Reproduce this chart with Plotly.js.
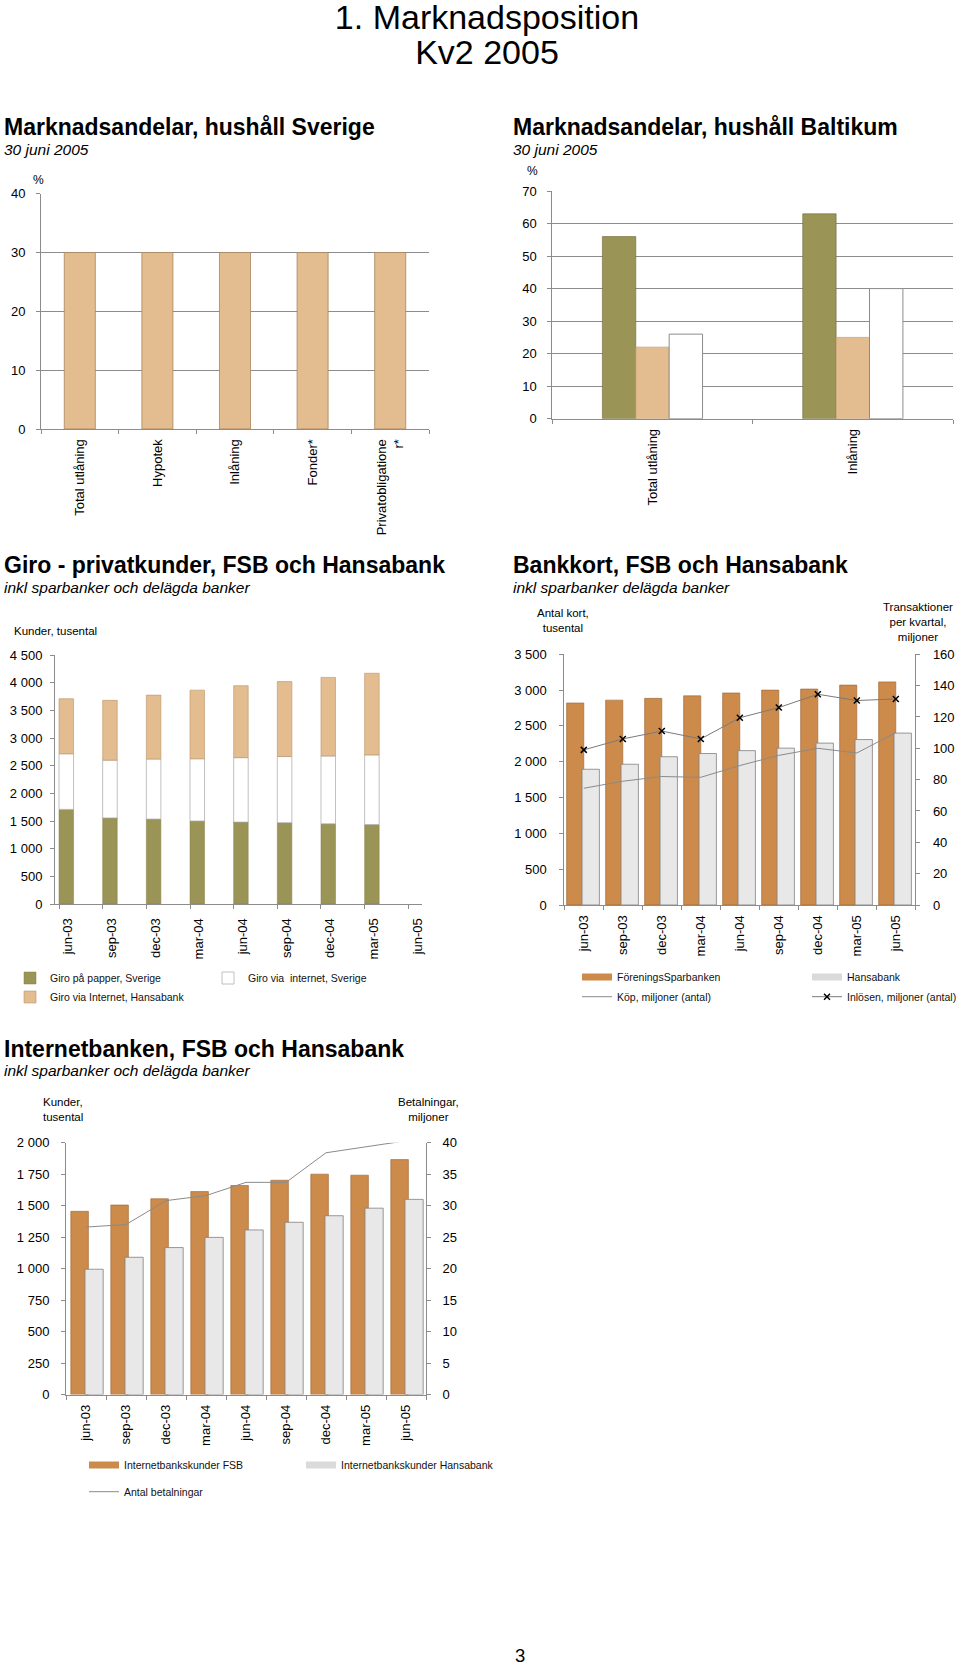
<!DOCTYPE html>
<html>
<head>
<meta charset="utf-8">
<script src="https://cdn.plot.ly/plotly-3.0.1.min.js"></script>
<style>
html,body{margin:0;padding:0;background:#fff;overflow:hidden;}
#wrap{position:relative;width:960px;height:1665px;}
#chart{position:absolute;left:0;top:0;width:960px;height:1665px;}
#pagetitle{position:absolute;left:287px;top:0;width:400px;text-align:center;
  font-family:'Liberation Sans',Arial,Helvetica,sans-serif;font-size:34px;line-height:35px;color:#000;z-index:5;}
</style>
</head>
<body>
<div id="wrap">
<div id="chart"></div>
<div id="pagetitle">1. Marknadsposition<br>Kv2 2005</div>
</div>
<script>
// ---------------- DATA ----------------
const sverigeCats = ['Total utlåning', 'Hypotek', 'Inlåning', 'Fonder*', 'Privatobligatione<br>r*'];
const sverigeShare = [30, 30, 30, 30, 30];

const balticCats = ['Total utlåning', 'Inlåning'];
const balticEstland = [56, 63];
const balticLettland = [22, 25];
const balticLitauen = [26, 40];

const quarters = ['jun-03', 'sep-03', 'dec-03', 'mar-04', 'jun-04', 'sep-04', 'dec-04', 'mar-05', 'jun-05'];

const giroPapper = [1710, 1555, 1535, 1500, 1480, 1470, 1450, 1435, null];
const giroInternetSe = [1005, 1045, 1085, 1125, 1165, 1195, 1225, 1260, null];
const giroHansa = [995, 1080, 1155, 1240, 1300, 1355, 1420, 1475, null];

const kortFSB = [2820, 2860, 2885, 2920, 2960, 3000, 3015, 3070, 3115];
const kortHansa = [1895, 1965, 2070, 2115, 2155, 2190, 2260, 2310, 2400];
const kop = [74.5, 79, 82, 81.5, 89, 95.5, 100, 97, 110];
const inlosen = [99, 106, 111, 106, 119.5, 126, 134.5, 130.5, 131.5];

const netFSB = [1455, 1505, 1555, 1612, 1660, 1702, 1750, 1742, 1866];
const netHansa = [995, 1090, 1167, 1248, 1307, 1368, 1420, 1480, 1550];
const betalningar = [26.6, 27.0, 30.8, 31.6, 33.7, 33.7, 38.4, 39.3, 40.3];

// ---------------- HELPERS ----------------
const W = 960, H = 1665;
const px = v => v / W;
const py = v => 1 - v / H;
const F = 'Liberation Sans, Arial, Helvetica, sans-serif';
const AX = '#8c8c8c';
const TAN = '#E3BC8F', OLIVE = '#9A9456', ORANGE = '#CC8A4B', LGREY = '#E8E8E8';

const giroBase2 = giroPapper;
const giroBase3 = giroPapper.map((v, i) => v == null ? null : v + giroInternetSe[i]);

function catAxis(o) {
  return Object.assign({
    type: 'category', showline: true, linecolor: AX, linewidth: 1,
    ticks: 'outside', ticklen: 4, tickcolor: AX, tickangle: -90,
    tickfont: {family: F, size: 13, color: '#000'},
    showgrid: false, zeroline: false, fixedrange: true, ticklabelstandoff: 4, automargin: false
  }, o);
}
function valAxis(o) {
  return Object.assign({
    type: 'linear', showline: true, linecolor: AX, linewidth: 1,
    ticks: 'outside', ticklen: 4, tickcolor: AX,
    tickfont: {family: F, size: 13, color: '#000'},
    showgrid: false, gridcolor: AX, gridwidth: 1, zeroline: false, fixedrange: true,
    ticklabelstandoff: 8, automargin: false
  }, o);
}
function ann(text, x, y, o) {
  return Object.assign({
    text: text, x: px(x), y: py(y), xref: 'paper', yref: 'paper', showarrow: false,
    xanchor: 'left', yanchor: 'middle', align: 'left',
    font: {family: F, size: 13, color: '#000'}
  }, o);
}
function legendCfg(x, y) {
  return {
    orientation: 'h', x: px(x), y: py(y), xanchor: 'left', yanchor: 'middle',
    bgcolor: 'rgba(0,0,0,0)', borderwidth: 0,
    font: {family: F, size: 10.5, color: '#111'},
    itemclick: false, itemdoubleclick: false
  };
}
// legend-only key (wide bar-like swatch), carries no data marks
function legendKey(name, color, legend, xa, ya, lw) {
  const t = {type: 'scatter', mode: 'lines', x: [null], y: [null], xaxis: xa, yaxis: ya,
    line: {color: color, width: 7}, name: name, legend: legend};
  if (lw) t.legendwidth = lw;
  return t;
}

// ---------------- TRACES ----------------
const traces = [
  // A: Sverige
  {type: 'bar', x: sverigeCats, y: sverigeShare, xaxis: 'x', yaxis: 'y', offset: -0.2, width: 0.4,
   marker: {color: TAN, line: {color: '#a8855c', width: 0.8}}, showlegend: false, name: 'Marknadsandel'},
  // B: Baltikum
  {type: 'bar', x: balticCats, y: balticEstland, xaxis: 'x2', yaxis: 'y2', offset: -0.25, width: 0.1667,
   marker: {color: OLIVE, line: {color: '#6f6a3a', width: 0.6}}, showlegend: false, name: 'Estland'},
  {type: 'bar', x: balticCats, y: balticLettland, xaxis: 'x2', yaxis: 'y2', offset: -0.0833, width: 0.1667,
   marker: {color: TAN, line: {color: '#b89468', width: 0.6}}, showlegend: false, name: 'Lettland'},
  {type: 'bar', x: balticCats, y: balticLitauen, xaxis: 'x2', yaxis: 'y2', offset: 0.0833, width: 0.1667,
   marker: {color: '#ffffff', line: {color: AX, width: 1}}, showlegend: false, name: 'Litauen'},
  // C: Giro
  {type: 'bar', x: quarters, y: giroPapper, xaxis: 'x3', yaxis: 'y3', offset: 0, width: 0.333,
   marker: {color: OLIVE, line: {color: '#857f45', width: 0.5}}, name: 'Giro på papper, Sverige', legend: 'legend', legendwidth: 153},
  {type: 'bar', x: quarters, y: giroInternetSe, base: giroBase2, xaxis: 'x3', yaxis: 'y3', offset: 0, width: 0.333,
   marker: {color: '#ffffff', line: {color: '#b0b0b0', width: 0.8}}, name: 'Giro via\u00a0 internet, Sverige', legend: 'legend'},
  {type: 'bar', x: quarters, y: giroHansa, base: giroBase3, xaxis: 'x3', yaxis: 'y3', offset: 0, width: 0.333,
   marker: {color: TAN, line: {color: '#b89468', width: 0.6}}, name: 'Giro via Internet, Hansabank', legend: 'legend2'},
  // D: Bankkort
  {type: 'bar', x: quarters, y: kortFSB, xaxis: 'x4', yaxis: 'y4', offset: -0.44, width: 0.44,
   marker: {color: ORANGE, line: {color: '#9b6331', width: 0.6}}, name: 'FöreningsSparbanken', showlegend: false},
  {type: 'bar', x: quarters, y: kortHansa, xaxis: 'x4', yaxis: 'y4', offset: -0.045, width: 0.445,
   marker: {color: LGREY, line: {color: '#808080', width: 0.8}}, name: 'Hansabank', showlegend: false},
  legendKey('FöreningsSparbanken', ORANGE, 'legend3', 'x4', 'y4', 185),
  legendKey('Hansabank', '#dadada', 'legend3', 'x4', 'y4'),
  {type: 'scatter', mode: 'lines', x: quarters, y: kop, xaxis: 'x4', yaxis: 'y5',
   line: {color: '#8a8a8a', width: 1}, name: 'Köp, miljoner (antal)', legend: 'legend4', legendwidth: 185},
  {type: 'scatter', mode: 'lines+markers', x: quarters, y: inlosen, xaxis: 'x4', yaxis: 'y5',
   line: {color: '#7a7a7a', width: 1}, marker: {symbol: 'x-thin', size: 6, color: '#000', line: {color: '#000', width: 1.5}},
   name: 'Inlösen, miljoner (antal)', legend: 'legend4'},
  // E: Internetbanken
  {type: 'bar', x: quarters, y: netFSB, xaxis: 'x5', yaxis: 'y6', offset: -0.38, width: 0.44,
   marker: {color: ORANGE, line: {color: '#9b6331', width: 0.6}}, name: 'Internetbankskunder FSB', showlegend: false},
  {type: 'bar', x: quarters, y: netHansa, xaxis: 'x5', yaxis: 'y6', offset: -0.025, width: 0.455,
   marker: {color: LGREY, line: {color: '#808080', width: 0.8}}, name: 'Internetbankskunder Hansabank', showlegend: false},
  legendKey('Internetbankskunder FSB', ORANGE, 'legend5', 'x5', 'y6', 172),
  legendKey('Internetbankskunder Hansabank', '#dadada', 'legend5', 'x5', 'y6'),
  {type: 'scatter', mode: 'lines', x: quarters, y: betalningar, xaxis: 'x5', yaxis: 'y7',
   line: {color: '#8a8a8a', width: 1}, name: 'Antal betalningar', legend: 'legend6'}
];

// ---------------- LAYOUT ----------------
const layout = {
  width: W, height: H,
  margin: {l: 0, r: 0, t: 0, b: 0, pad: 0, autoexpand: false},
  paper_bgcolor: 'rgba(0,0,0,0)', plot_bgcolor: 'rgba(0,0,0,0)',
  font: {family: F, color: '#000'},
  separators: ', ',
  barmode: 'overlay',
  hovermode: false, dragmode: false,

  xaxis: catAxis({domain: [px(41), px(429)], anchor: 'y', range: [-0.5, 4.5], tickson: 'boundaries'}),
  yaxis: valAxis({domain: [py(429), py(193.7)], anchor: 'x', range: [0, 40], dtick: 10, showgrid: true}),

  xaxis2: catAxis({domain: [px(552.3), px(953)], anchor: 'y2', range: [-0.5, 1.5], tickson: 'boundaries'}),
  yaxis2: valAxis({domain: [py(418.7), py(191)], anchor: 'x2', range: [0, 70], dtick: 10, showgrid: true}),

  xaxis3: catAxis({domain: [px(55), px(421.7)], anchor: 'y3', range: [-0.092, 8.307], ticklabelshift: 9}),
  yaxis3: valAxis({domain: [py(904), py(655)], anchor: 'x3', range: [0, 4500], dtick: 500, separatethousands: true, ticklabelstandoff: 5}),

  xaxis4: catAxis({domain: [px(564.3), px(915.3)], anchor: 'y4', range: [-0.5, 8.5], tickson: 'boundaries'}),
  yaxis4: valAxis({domain: [py(905), py(654.3)], anchor: 'x4', range: [0, 3500], dtick: 500, separatethousands: true, ticklabelstandoff: 10}),
  yaxis5: valAxis({overlaying: 'y4', side: 'right', anchor: 'x4', range: [0, 160], dtick: 20, ticklabelstandoff: 10}),

  xaxis5: catAxis({domain: [px(66), px(426)], anchor: 'y6', range: [-0.5, 8.5], tickson: 'boundaries'}),
  yaxis6: valAxis({domain: [py(1394.5), py(1142.7)], anchor: 'x5', range: [0, 2000], dtick: 250, separatethousands: true, ticklabelstandoff: 9}),
  yaxis7: valAxis({overlaying: 'y6', side: 'right', anchor: 'x5', range: [0, 40], dtick: 5, ticklabelstandoff: 9}),

  legend: legendCfg(10, 978),
  legend2: legendCfg(10, 997),
  legend3: legendCfg(577, 977),
  legend4: legendCfg(577, 996.7),
  legend5: legendCfg(84, 1465),
  legend6: legendCfg(84, 1491.7),

  annotations: [
    ann('<b>Marknadsandelar, hushåll Sverige</b>', 2, 127, {font: {family: F, size: 23, color: '#000'}}),
    ann('<i>30 juni 2005</i>', 2, 150, {font: {family: F, size: 15.5, color: '#000'}}),
    ann('%', 38, 180, {xanchor: 'center', font: {family: F, size: 12, color: '#000'}}),

    ann('<b>Marknadsandelar, hushåll Baltikum</b>', 511, 127, {font: {family: F, size: 23, color: '#000'}}),
    ann('<i>30 juni 2005</i>', 511, 150, {font: {family: F, size: 15.5, color: '#000'}}),
    ann('%', 532, 171, {xanchor: 'center', font: {family: F, size: 12, color: '#000'}}),

    ann('<b>Giro - privatkunder, FSB och Hansabank</b>', 2, 565, {font: {family: F, size: 23, color: '#000'}}),
    ann('<i>inkl sparbanker och delägda banker</i>', 2, 587.3, {font: {family: F, size: 15.5, color: '#000'}}),
    ann('Kunder, tusental', 12, 631, {font: {family: F, size: 11.5, color: '#000'}}),

    ann('<b>Bankkort, FSB och Hansabank</b>', 511, 565, {font: {family: F, size: 23, color: '#000'}}),
    ann('<i>inkl sparbanker delägda banker</i>', 511, 587.3, {font: {family: F, size: 15.5, color: '#000'}}),
    ann('Antal kort,<br>tusental', 563.3, 620, {xanchor: 'center', align: 'center', font: {family: F, size: 11.5, color: '#000'}}),
    ann('Transaktioner<br>per kvartal,<br>miljoner', 918.3, 622, {xanchor: 'center', align: 'center', font: {family: F, size: 11.5, color: '#000'}}),

    ann('<b>Internetbanken, FSB och Hansabank</b>', 2, 1048.5, {font: {family: F, size: 23, color: '#000'}}),
    ann('<i>inkl sparbanker och delägda banker</i>', 2, 1070.7, {font: {family: F, size: 15.5, color: '#000'}}),
    ann('Kunder,<br>tusental', 41, 1109, {font: {family: F, size: 11.5, color: '#000'}}),
    ann('Betalningar,<br>miljoner', 428.3, 1109, {xanchor: 'center', align: 'center', font: {family: F, size: 11.5, color: '#000'}}),

    ann('3', 520, 1655.5, {xanchor: 'center', font: {family: F, size: 18.5, color: '#000'}})
  ]
};

Plotly.newPlot('chart', traces, layout, {staticPlot: true, displayModeBar: false});
</script>
</body>
</html>
